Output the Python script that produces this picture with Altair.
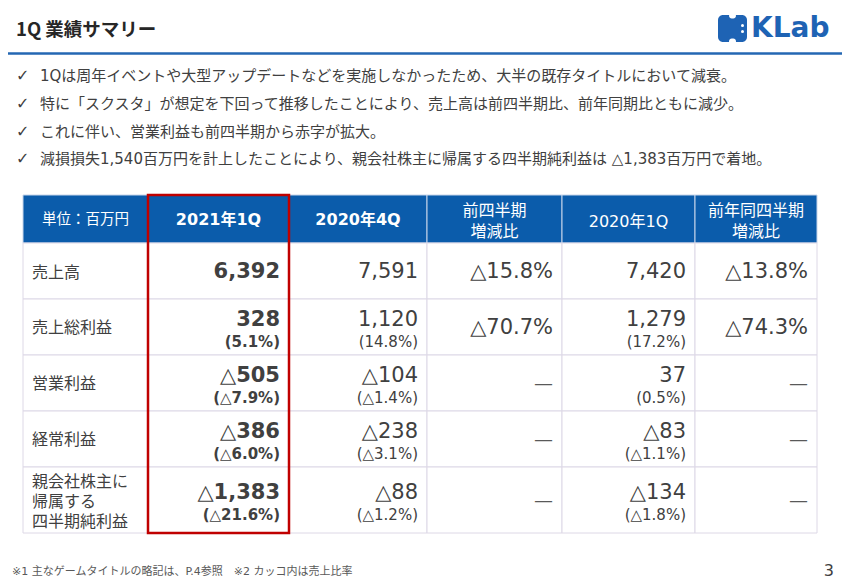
import altair as alt
import pandas as pd

# ---------------- data (text and values) ----------------
title = "1Q 業績サマリー"
logo_text = "KLab"
bullets = [
    "1Qは周年イベントや大型アップデートなどを実施しなかったため、大半の既存タイトルにおいて減衰。",
    "特に「スクスタ」が想定を下回って推移したことにより、売上高は前四半期比、前年同期比ともに減少。",
    "これに伴い、営業利益も前四半期から赤字が拡大。",
    "減損損失1,540百万円を計上したことにより、親会社株主に帰属する四半期純利益は △1,383百万円で着地。",
]
headers = ["単位：百万円", "2021年1Q", "2020年4Q", "前四半期\n増減比", "2020年1Q", "前年同四半期\n増減比"]
row_labels = ["売上高", "売上総利益", "営業利益", "経常利益", "親会社株主に\n帰属する\n四半期純利益"]
q2021_1 = ["6,392", "328", "△505", "△386", "△1,383"]
q2021_1_ratio = ["", "(5.1%)", "(△7.9%)", "(△6.0%)", "(△21.6%)"]
q2020_4 = ["7,591", "1,120", "△104", "△238", "△88"]
q2020_4_ratio = ["", "(14.8%)", "(△1.4%)", "(△3.1%)", "(△1.2%)"]
qoq_change = ["△15.8%", "△70.7%", "—", "—", "—"]
q2020_1 = ["7,420", "1,279", "37", "△83", "△134"]
q2020_1_ratio = ["", "(17.2%)", "(0.5%)", "(△1.1%)", "(△1.8%)"]
yoy_change = ["△13.8%", "△74.3%", "—", "—", "—"]
footnote = "※1 主なゲームタイトルの略記は、P.4参照　※2 カッコ内は売上比率"
page_no = "3"

# ---------------- layout (slide pixel grid) ----------------
W, H = 834, 572
col_edges = [23, 148, 289, 427, 562, 695, 817]
row_edges = [195, 243, 299, 355, 411, 467, 533]
bullet_y = [76, 104, 132, 159]

BLUE = "#0B5CAB"
DARK = "#404040"
GRID = "#DDD8E6"
MIX = "DejaVu Sans, Noto Sans CJK JP, sans-serif"
JP = "Noto Sans CJK JP, sans-serif"

X = alt.X("x:Q", scale=alt.Scale(domain=[8, 842], nice=False, zero=False), axis=None)
Y = alt.Y("y:Q", scale=alt.Scale(domain=[580, 8], nice=False, zero=False), axis=None)


def rects(rows):
    return pd.DataFrame(rows, columns=["x", "x2", "y", "y2", "fill", "stroke"])


def text_layer(rows, align, weight="normal", font=MIX, line_height=20):
    # split multi-line labels into single lines centred on the given y
    out = []
    for x, y, txt, size, color in rows:
        lines = txt.split("\n")
        n = len(lines)
        for k, ln in enumerate(lines):
            out.append([x, y + (k - (n - 1) / 2) * line_height, ln, size, color])
    df = pd.DataFrame(out, columns=["x", "y", "text", "size", "color"])
    return alt.Chart(df).mark_text(
        align=align, baseline="middle", fontWeight=weight, font=font
    ).encode(
        x=X, y=Y, text="text:N",
        size=alt.Size("size:Q", scale=None),
        color=alt.Color("color:N", scale=None),
    )


# ---- table cells ----
cell_rows = []
for i in range(6):
    cell_rows.append([col_edges[i], col_edges[i + 1], row_edges[0], row_edges[1], BLUE, "#C7D5EA"])
for j in range(5):
    for i in range(6):
        cell_rows.append([col_edges[i], col_edges[i + 1], row_edges[j + 1], row_edges[j + 2], "#FFFFFF", GRID])
cells = alt.Chart(rects(cell_rows)).mark_rect(strokeWidth=1).encode(
    x=X, x2="x2:Q", y=Y, y2="y2:Q",
    fill=alt.Fill("fill:N", scale=None), stroke=alt.Stroke("stroke:N", scale=None),
)

highlight = alt.Chart(rects([[col_edges[1], col_edges[2], row_edges[0], row_edges[-1], "#FFFFFF", "#C00000"]])).mark_rect(
    fillOpacity=0, strokeWidth=2.5
).encode(x=X, x2="x2:Q", y=Y, y2="y2:Q", stroke=alt.Stroke("stroke:N", scale=None))

# ---- title rule ----
rule = alt.Chart(pd.DataFrame({"x": [8], "x2": [842], "y": [53.5]})).mark_rule(
    color="#2467B3", strokeWidth=2.5
).encode(x=X, x2="x2:Q", y=Y)

# ---- logo icon ----
logo_box = alt.Chart(rects([[718, 747, 15, 42, "#1E63B4", "#1E63B4"]])).mark_rect(cornerRadius=5).encode(
    x=X, x2="x2:Q", y=Y, y2="y2:Q", fill=alt.Fill("fill:N", scale=None)
)
logo_notch = alt.Chart(rects([[729, 736, 13, 18.5, "#FFFFFF", "#FFFFFF"], [729, 736, 38.5, 44, "#FFFFFF", "#FFFFFF"]])).mark_rect(
    cornerRadius=3
).encode(x=X, x2="x2:Q", y=Y, y2="y2:Q", fill=alt.Fill("fill:N", scale=None))
logo_dots = alt.Chart(pd.DataFrame({"x": [742.5, 742.5], "y": [25.5, 31.5]})).mark_circle(
    color="#FFFFFF", opacity=1, size=9
).encode(x=X, y=Y)

# ---- texts ----
left_normal = []
for k, b in enumerate(bullets):
    left_normal.append([16, bullet_y[k], "✓", 16, DARK])
    left_normal.append([40, bullet_y[k], b, 15, DARK])
label_y = [273, 328, 384, 440, 502]
for j, lab in enumerate(row_labels):
    left_normal.append([32, label_y[j], lab, 16, DARK])
left_normal.append([12, 572, footnote, 11, "#595959"])

title_layer = text_layer([[16, 30, title, 18.5, "#262626"]], "left", "bold", JP)
logo_layer = text_layer([[751, 29, logo_text, 28, "#1E63B4"]], "left", "bold", MIX)
page_layer = text_layer([[834, 571, page_no, 16, DARK]], "right", "normal", MIX)

center_normal = []
center_bold = []
for i, h in enumerate(headers):
    cx = (col_edges[i] + col_edges[i + 1]) / 2
    if i in (1, 2):
        center_bold.append([cx, 220, h, 16, "#FFFFFF"])
    elif i == 0:
        center_normal.append([cx, 220, h, 14.5, "#FFFFFF"])
    else:
        center_normal.append([cx, 221.5, h, 16, "#FFFFFF"])

right_normal = []
right_bold = []
for j in range(5):
    c = (row_edges[j + 1] + row_edges[j + 2]) / 2
    cols = [(1, q2021_1, q2021_1_ratio), (2, q2020_4, q2020_4_ratio), (3, qoq_change, None),
            (4, q2020_1, q2020_1_ratio), (5, yoy_change, None)]
    for i, vals, ratios in cols:
        rx = col_edges[i + 1] - 9
        target = right_bold if i == 1 else right_normal
        v = vals[j]
        if v == "—":
            target.append([rx, c + 1, v, 19, "#595959"])
        elif ratios is not None and ratios[j]:
            target.append([rx, c - 7.5, v, 21, DARK])
            target.append([rx, c + 15, ratios[j], 15, DARK])
        else:
            target.append([rx, c + 1, v, 21, DARK])

chart = alt.layer(
    rule, cells, highlight, logo_box, logo_notch, logo_dots,
    title_layer, logo_layer, page_layer,
    text_layer(left_normal, "left"),
    text_layer(center_normal, "center", line_height=21),
    text_layer(center_bold, "center", "bold"),
    text_layer(right_normal, "right"),
    text_layer(right_bold, "right", "bold"),
).properties(
    width=W, height=H, autosize=alt.AutoSizeParams(type="none"), padding=0, background="#FFFFFF"
).configure_view(stroke=None)

chart.save("out.html", embed_options={"renderer": "svg", "actions": False})
